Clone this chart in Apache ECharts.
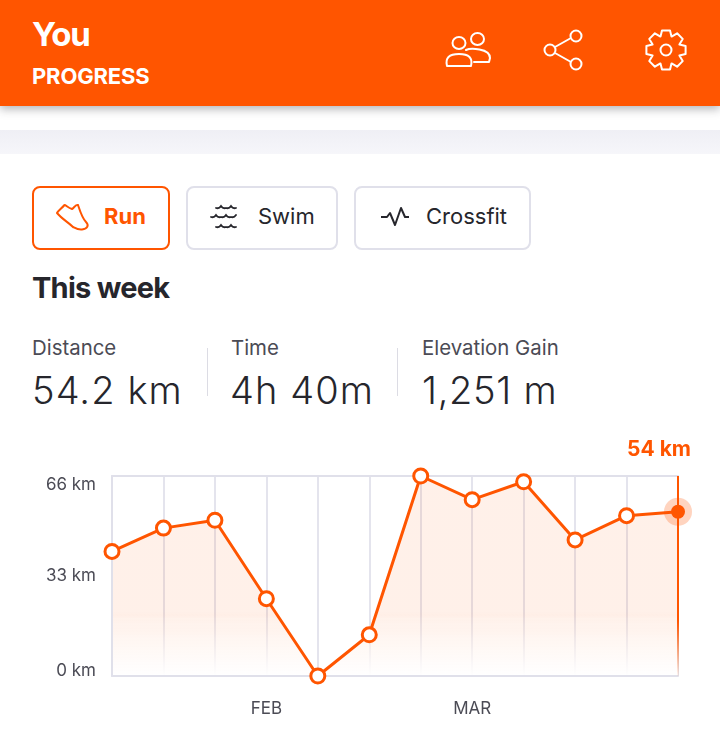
<!DOCTYPE html>
<html>
<head>
<meta charset="utf-8">
<title>You - Progress</title>
<script src="https://cdn.jsdelivr.net/npm/echarts@6/dist/echarts.min.js"></script>
<style>
html, body { margin: 0; padding: 0; background: #fff; }
body { position: relative; width: 720px; height: 749px; overflow: hidden; font-family: Inter, "Noto Sans", sans-serif; color: #26262c; }
.abs { position: absolute; white-space: nowrap; line-height: 1; }
#header { position: absolute; left: 0; top: 0; width: 720px; height: 106px; background: #ff5500; box-shadow: 0 3px 9px rgba(40,40,50,.35); z-index: 2; }
#band { position: absolute; left: 0; top: 130px; width: 720px; height: 24px; background: linear-gradient(#efeff5, #f6f6fa); }
.btn { position: absolute; top: 186px; height: 60px; border: 2px solid #e0e0ea; border-radius: 8px; box-sizing: content-box; }
.btn.on { border-color: #ff5500; }
.label { color: #4b4b55; font-size: 20.4px; }
.num { font-size: 38px; font-weight: 300; color: #26262c; letter-spacing: 1.1px; }
.sep { position: absolute; width: 1px; top: 348px; height: 48px; background: #dcdce4; }
svg { position: absolute; fill: none; }
#chart { position: absolute; left: 0; top: 430px; width: 720px; height: 319px; }
</style>
</head>
<body>
<div id="header">
  <div class="abs" style="left:32px;top:18px;font-size:33px;font-weight:700;color:#fff;letter-spacing:-1.2px">You</div>
  <div class="abs" style="left:32px;top:65px;font-size:22px;font-weight:700;color:#fff;letter-spacing:-.15px">PROGRESS</div>
  <svg style="left:444px;top:30px" width="48" height="40" viewBox="0 0 48 40" stroke="#fff" stroke-width="2" stroke-linejoin="round" stroke-linecap="round">
    <ellipse cx="15" cy="13" rx="6.5" ry="6"/><ellipse cx="33.5" cy="9" rx="6.5" ry="6"/>
    <path d="M3 36 C1 28 5 24 15 24 C25 24 29 28 27 36 Z"/>
    <path d="M22 20 C26 18 46 18 46 28 L45 32 L30 32"/>
  </svg>
  <svg style="left:542px;top:28px" width="42" height="44" viewBox="0 0 42 44" stroke="#fff" stroke-width="2">
    <circle cx="8" cy="22" r="5.5"/><circle cx="34" cy="8" r="5.5"/><circle cx="34" cy="36" r="5.5"/>
    <path d="M13 19 L29 10 M13 25 L29 34"/>
  </svg>
  <svg style="left:644px;top:28px" width="44" height="44" viewBox="0 0 44 44" stroke="#fff" stroke-width="2" stroke-linejoin="round">
    <circle cx="22" cy="22" r="5.5"/>
    <path id="gear"/>
  </svg>
</div>
<div id="band"></div>

<div class="btn on" style="left:32px;width:134px"></div>
<svg style="left:54px;top:202px" width="36" height="30" viewBox="0 0 36 30" stroke="#ff5500" stroke-width="2" stroke-linejoin="round">
  <path d="M10.5 3 C12 3 14 6 18 7 C20 6 22 2 24 3 C26 9 28 16 32 20 C35 23 34 27 28 27.5 C24 28 21 26 19 25 C14 20 8 17 3 11 C4 9 8 6 10.5 3 Z"/>
</svg>
<div class="abs" style="left:104px;top:205px;font-size:22px;font-weight:700;color:#ff5500">Run</div>

<div class="btn" style="left:186px;width:148px"></div>
<svg style="left:210px;top:204px" width="32" height="28" viewBox="0 0 32 28" stroke="#26262c" stroke-width="1.8" stroke-linecap="round">
  <path d="M6 4 q3 1 5 -2 q2 3 5 2 q3 1 5 -2 q2 3 5 2 M1 13 q3 1 5 -2 q2 3 5 2 q3 1 5 -2 q2 3 5 2 q3 1 5 -2"/>
  <path d="M6 23 q3 1 5 -2 q2 3 5 2 q3 1 5 -2 q2 3 5 2"/>
</svg>
<div class="abs" style="left:258px;top:205px;font-size:22px;color:#26262c">Swim</div>

<div class="btn" style="left:354px;width:173px"></div>
<svg style="left:380px;top:206px" width="30" height="22" viewBox="0 0 30 22" stroke="#26262c" stroke-width="2" stroke-linejoin="round">
  <path d="M1 11 H7 L10 7 L15 19 L21 2 L25 11 H29"/>
</svg>
<div class="abs" style="left:426px;top:205px;font-size:22px;color:#26262c">Crossfit</div>

<div class="abs" style="left:32px;top:273px;font-size:29px;font-weight:700;letter-spacing:-.75px">This week</div>

<div class="abs label" style="left:32px;top:338px">Distance</div>
<div class="abs num" style="left:32px;top:371px">54.2 km</div>
<div class="sep" style="left:207px"></div>
<div class="abs label" style="left:231px;top:338px">Time</div>
<div class="abs num" style="left:230px;top:371px">4h 40m</div>
<div class="sep" style="left:397px"></div>
<div class="abs label" style="left:422px;top:338px">Elevation Gain</div>
<div class="abs num" style="left:422px;top:371px;letter-spacing:.7px">1,251 m</div>

<div id="chart"></div>

<script>
var xLabels = ['', '', '', 'FEB', '', '', '', 'MAR', '', '', '', ''];
var distance = [41.1, 48.8, 51.4, 25.5, 0, 13.6, 66, 58.2, 64.1, 44.9, 52.9, 54.2];
var yMax = 66;
var yStep = 33;

var orange = '#ff5500';
var gridColor = '#e0e0ea';
var lastIndex = distance.length - 1;
var lastValue = distance[lastIndex];

// settings icon, eight teeth around the hub
var gearPath = '';
for (var t = 0; t < 8; t++) {
    var a = (t * 45 - 90) * Math.PI / 180;
    var corners = [[-0.39, 14.5], [-0.2, 20], [0.2, 20], [0.39, 14.5]];
    corners.forEach(function (c) {
        var px = 22 + c[1] * Math.cos(a + c[0]);
        var py = 22 + c[1] * Math.sin(a + c[0]);
        gearPath += (gearPath ? 'L' : 'M') + px.toFixed(1) + ' ' + py.toFixed(1);
    });
}
document.getElementById('gear').setAttribute('d', gearPath + 'Z');

var myChart = echarts.init(document.getElementById('chart'));

var lineData = distance.map(function (v, i) {
    return i === lastIndex ? { value: v, symbol: 'none' } : v;
});

var option = {
    animation: false,
    grid: { left: 112, top: 46, width: 566, height: 200, containLabel: false },
    xAxis: [{
        // grid lines and top edge, sit under the area fill
        type: 'category',
        position: 'top',
        boundaryGap: false,
        data: xLabels,
        z: 0,
        axisLine: { show: true, onZero: false, lineStyle: { color: gridColor, width: 2 } },
        axisTick: { show: false },
        axisLabel: { show: false },
        splitLine: { show: true, interval: 0, lineStyle: { color: '#e4e4ed', width: 2 } }
    }, {
        type: 'category',
        position: 'bottom',
        boundaryGap: false,
        data: xLabels,
        z: 3,
        axisLine: { show: true, onZero: false, lineStyle: { color: gridColor, width: 2 } },
        axisTick: { show: false },
        axisLabel: {
            show: true, interval: 0, margin: 24, hideOverlap: false,
            color: '#4b4b55', fontSize: 17, fontFamily: 'Inter'
        },
        splitLine: { show: false }
    }],
    yAxis: {
        type: 'value',
        min: 0,
        max: yMax,
        interval: yStep,
        z: 3,
        axisLine: { show: true, lineStyle: { color: gridColor, width: 2 } },
        axisTick: { show: false },
        splitLine: { show: false },
        axisLabel: {
            margin: 16,
            color: '#4b4b55',
            fontSize: 17,
            fontFamily: 'Inter',
            lineHeight: 10,
            padding: [4, 0, 0, 0],
            verticalAlignMinLabel: 'bottom',
            verticalAlignMaxLabel: 'top',
            formatter: '{value} km'
        }
    },
    series: [{
        // fill only, under the axis lines
        type: 'line',
        data: distance,
        xAxisIndex: 0,
        z: 1,
        silent: true,
        showSymbol: false,
        symbol: 'none',
        lineStyle: { width: 0 },
        areaStyle: {
            opacity: 1,
            color: new echarts.graphic.LinearGradient(0, 0, 0, 1, [
                { offset: 0, color: 'rgba(255,85,0,0.085)' },
                { offset: 0.68, color: 'rgba(255,85,0,0.085)' },
                { offset: 0.712, color: 'rgba(255,181,144,0.1765)' },
                { offset: 0.744, color: 'rgba(255,212,190,0.268)' },
                { offset: 0.808, color: 'rgba(255,236,226,0.451)' },
                { offset: 0.872, color: 'rgba(255,246,241,0.634)' },
                { offset: 0.936, color: 'rgba(255,251,250,0.817)' },
                { offset: 1, color: 'rgba(255,255,255,1)' }
            ])
        }
    }, {
        type: 'line',
        data: lineData,
        xAxisIndex: 0,
        z: 5,
        clip: false,
        showSymbol: true,
        showAllSymbol: true,
        symbol: 'circle',
        symbolSize: 14,
        lineStyle: { color: orange, width: 3 },
        itemStyle: { color: '#fff', borderColor: orange, borderWidth: 3 },
        markLine: {
            silent: true,
            symbol: 'none',
            animation: false,
            lineStyle: {
                type: 'solid',
                width: 2,
                opacity: 1,
                color: new echarts.graphic.LinearGradient(0, 0, 0, 1, [
                    { offset: 0, color: orange },
                    { offset: 0.72, color: orange },
                    { offset: 1, color: 'rgba(255,85,0,0)' }
                ])
            },
            label: {
                show: true,
                position: 'end',
                distance: 16,
                offset: [-19, 0],
                color: orange,
                fontSize: 21,
                fontWeight: 700,
                fontFamily: 'Inter',
                formatter: Math.round(lastValue) + ' km'
            },
            data: [[
                { xAxis: lastIndex, yAxis: 0 },
                { xAxis: lastIndex, yAxis: yMax }
            ]]
        }
    }, {
        type: 'scatter',
        data: [[lastIndex, lastValue]],
        z: 6,
        clip: false,
        silent: true,
        symbolSize: 28,
        itemStyle: { color: 'rgba(255,85,0,0.25)', opacity: 1 }
    }, {
        type: 'scatter',
        data: [[lastIndex, lastValue]],
        z: 7,
        clip: false,
        silent: true,
        symbolSize: 14,
        itemStyle: { color: orange, opacity: 1 }
    }]
};

myChart.setOption(option);
</script>
</body>
</html>
